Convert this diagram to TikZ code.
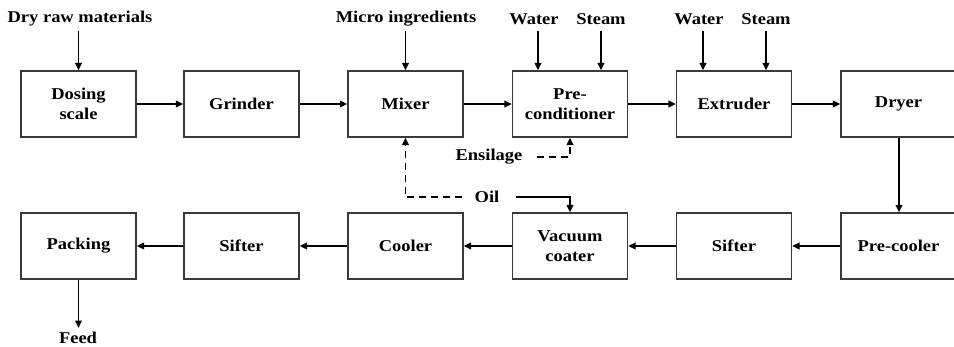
\documentclass[tikz,border=0pt]{standalone}
\usepackage{fontspec}
\setmainfont{Liberation Serif}[FakeStretch=1.12]
\usetikzlibrary{positioning, arrows.meta}
\definecolor{BoxLine}{HTML}{3A3A3A}

\begin{document}
\begin{tikzpicture}[
            x=1pt, y=-1pt,
            procbox/.style={draw=BoxLine, line width=1.1pt, fill=white, align=center, font=\fontsize{16.5}{20}\selectfont\bfseries, minimum width=115pt, minimum height=66pt, inner sep=2pt},
            tag/.style={font=\fontsize{16.5}{20}\selectfont\bfseries, inner sep=2pt},
            flow/.style={line width=1.8pt, -{Triangle[length=7.5pt, width=6.5pt]}},
            dashflow/.style={flow, dash pattern=on 7pt off 5pt}
        ]
            \useasboundingbox (0,0) rectangle (954,346);

            % upper row
            \node[procbox] at (78.5, 104) (dosing) {Dosing\\scale};
            \node[procbox] at (241.5, 104) (grinder) {Grinder};
            \node[procbox] at (405.5, 104) (mixer) {Mixer};
            \node[procbox] at (570, 104) (precond) {Pre-\\conditioner};
            \node[procbox] at (734, 104) (extruder) {Extruder};
            \node[procbox] at (898.5, 104) (dryer) {Dryer};

            % lower row
            \node[procbox] at (78.5, 246) (packing) {Packing};
            \node[procbox] at (241.5, 246) (sifterB) {Sifter};
            \node[procbox] at (405.5, 246) (cooler) {Cooler};
            \node[procbox] at (570, 246) (coater) {Vacuum\\coater};
            \node[procbox] at (734, 246) (sifterA) {Sifter};
            \node[procbox] at (898.5, 246) (precooler) {Pre-cooler};

            % inputs and outputs
            \node[tag] at (80, 19) (dry) {Dry raw materials};
            \node[tag] at (406, 19) (micro) {Micro ingredients};
            \node[tag] at (534, 19) (waterA) {Water};
            \node[tag] at (601, 19) (steamA) {Steam};
            \node[tag] at (699, 19) (waterB) {Water};
            \node[tag] at (766, 19) (steamB) {Steam};
            \node[tag] at (489, 157) (ensilage) {Ensilage};
            \node[tag] at (487, 197) (oil) {Oil};
            \node[tag] at (78, 338) (feed) {Feed};

            \coordinate (inA) at (538, 31);
            \coordinate (inB) at (601, 31);
            \coordinate (inC) at (703, 31);
            \coordinate (inD) at (766, 31);

            \draw[flow] (dosing.north |- 0,31) -- (dosing.north);
            \draw[flow] (mixer.north |- 0,31) -- (mixer.north);
            \draw[flow] (inA) -- (inA |- precond.north);
            \draw[flow] (inB) -- (inB |- precond.north);
            \draw[flow] (inC) -- (inC |- extruder.north);
            \draw[flow] (inD) -- (inD |- extruder.north);

            % main line
            \draw[flow] (dosing) -- (grinder);
            \draw[flow] (grinder) -- (mixer);
            \draw[flow] (mixer) -- (precond);
            \draw[flow] (precond) -- (extruder);
            \draw[flow] (extruder) -- (dryer);
            \draw[flow] (dryer.south -| 899,0) -- (precooler.north -| 899,0);
            \draw[flow] (precooler) -- (sifterA);
            \draw[flow] (sifterA) -- (coater);
            \draw[flow] (coater) -- (cooler);
            \draw[flow] (cooler) -- (sifterB);
            \draw[flow] (sifterB) -- (packing);
            \draw[flow] (packing.south) -- (packing.south |- 0,328);

            % side streams
            \draw[dashflow] ([xshift=12pt]ensilage.east) -| (precond.south);
            \draw[dashflow] ([xshift=-10pt]oil.west) -| (mixer.south);
            \draw[flow] ([xshift=14pt]oil.east) -| (coater.north);

        \end{tikzpicture}
\end{document}
